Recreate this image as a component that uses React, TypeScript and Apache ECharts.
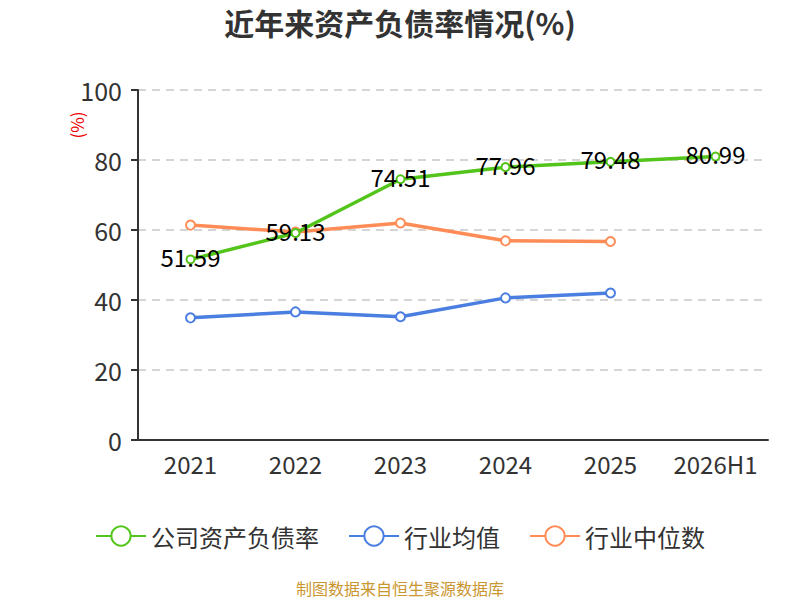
import React, { useEffect, useRef } from "react";
import * as echarts from "echarts";

const categories = ["2021", "2022", "2023", "2024", "2025", "2026H1"];
const companyRatio = [51.59, 59.13, 74.51, 77.96, 79.48, 80.99];
const industryMean = [34.9, 36.6, 35.2, 40.6, 42.0, null];
const industryMedian = [61.4, 59.4, 62.0, 56.9, 56.7, null];
const yTicks = { min: 0, max: 100, interval: 20 };

export default function App() {
  const ref = useRef<HTMLDivElement>(null);
  useEffect(() => {
    if (!ref.current) return;
    const chart = echarts.init(ref.current, null, { renderer: "svg" });
    const font = "'Microsoft YaHei', 'Noto Sans CJK SC', sans-serif";
    chart.setOption({
      animation: false,
      textStyle: { fontFamily: font },
      title: {
        text: "近年来资产负债率情况(%)",
        left: "center",
        top: 2,
        textStyle: { fontSize: 30, fontWeight: "bold", color: "#333", fontFamily: font },
      },
      grid: { left: 138, right: 32, top: 90, bottom: 160 },
      legend: {
        top: 519,
        left: "center",
        itemWidth: 50,
        itemHeight: 24,
        itemGap: 29,
        textStyle: { fontSize: 24, color: "#333", fontFamily: font },
        data: ["公司资产负债率", "行业均值", "行业中位数"],
      },
      graphic: [
        {
          type: "text",
          x: 400,
          y: 588,
          style: {
            text: "制图数据来自恒生聚源数据库",
            fill: "#c9962f",
            fontSize: 16,
            fontFamily: font,
            align: "center",
            verticalAlign: "middle",
          },
        },
        {
          type: "text",
          x: 76,
          y: 125,
          rotation: Math.PI / 2,
          style: {
            text: "(%)",
            fill: "#ee0000",
            fontSize: 17,
            fontFamily: font,
            align: "center",
            verticalAlign: "middle",
          },
        },
      ],
      xAxis: {
        type: "category",
        data: categories,
        boundaryGap: true,
        axisLine: { lineStyle: { color: "#333", width: 2 } },
        axisTick: { interval: 0, length: 8, lineStyle: { color: "#333", width: 2 } },
        axisLabel: { interval: 0, fontSize: 24, color: "#333", margin: 11, fontFamily: font },
      },
      yAxis: {
        type: "value",
        min: yTicks.min,
        max: yTicks.max,
        interval: yTicks.interval,
        axisLine: { show: true, lineStyle: { color: "#333", width: 2 } },
        axisTick: { show: true, length: 7, lineStyle: { color: "#333", width: 2 } },
        axisLabel: { fontSize: 25, color: "#333", margin: 16, fontFamily: font },
        splitLine: { lineStyle: { type: [8, 6], color: "#c8c8c8", width: 1.5 } },
      },
      series: [
        {
          name: "公司资产负债率",
          type: "line",
          data: companyRatio,
          symbol: "emptyCircle",
          symbolSize: 8,
          itemStyle: { color: "#52c41a" },
          lineStyle: { width: 3.5, color: "#52c41a" },
          label: {
            show: true,
            position: "inside",
            offset: [0, -3],
            fontSize: 24,
            color: "#000",
            fontFamily: font,
            formatter: (p: any) => p.value.toFixed(2),
          },
          z: 3,
        },
        {
          name: "行业均值",
          type: "line",
          data: industryMean,
          symbol: "emptyCircle",
          symbolSize: 9,
          itemStyle: { color: "#4a7ee0" },
          lineStyle: { width: 3.5, color: "#4a7ee0" },
        },
        {
          name: "行业中位数",
          type: "line",
          data: industryMedian,
          symbol: "emptyCircle",
          symbolSize: 9,
          itemStyle: { color: "#ff8c57" },
          lineStyle: { width: 3.5, color: "#ff8c57" },
          z: 1,
        },
      ],
    });
    return () => chart.dispose();
  }, []);
  return (
    <div
      ref={ref}
      style={{ position: "absolute", left: 0, top: 0, width: 800, height: 600 }}
    />
  );
}
